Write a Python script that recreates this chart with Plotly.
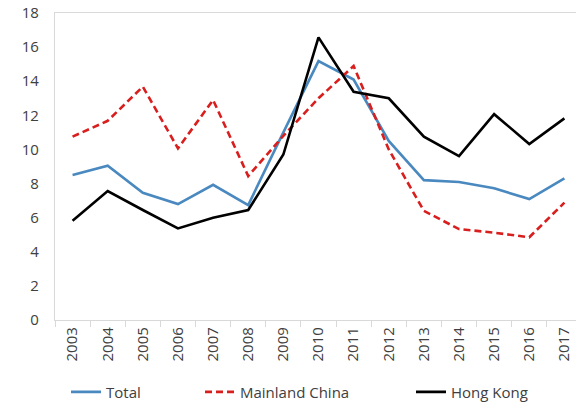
import plotly.graph_objects as go

years = [str(y) for y in range(2003, 2018)]
total = [8.5, 9.05, 7.46, 6.8, 7.93, 6.74, 11.0, 15.18, 14.1, 10.5, 8.2, 8.09, 7.72, 7.09, 8.3]
mainland = [10.75, 11.68, 13.68, 10.06, 12.9, 8.44, 10.8, 13.0, 14.89, 10.0, 6.4, 5.33, 5.12, 4.85, 6.88]
hongkong = [5.82, 7.56, 6.45, 5.37, 6.0, 6.45, 9.7, 16.57, 13.38, 13.0, 10.75, 9.61, 12.07, 10.32, 11.82]

FONT = "Open Sans"
TXT = "#404040"
AX = "#D9D9D9"

fig = go.Figure()
fig.add_trace(go.Scatter(x=years, y=total, mode="lines", name="Total",
                         line=dict(color="#4A89BF", width=2.6), legend="legend"))
fig.add_trace(go.Scatter(x=years, y=mainland, mode="lines", name="Mainland China",
                         line=dict(color="#D91E1E", width=2.6, dash="7px,4px"), legend="legend2"))
fig.add_trace(go.Scatter(x=years, y=hongkong, mode="lines", name="Hong Kong",
                         line=dict(color="#000000", width=2.6), legend="legend3"))

def leg(xpx):
    return dict(x=(xpx - 55) / 521, y=-0.235, xanchor="left", yanchor="middle",
                orientation="h", bgcolor="rgba(0,0,0,0)",
                font=dict(family=FONT, size=15, color=TXT), itemwidth=30,
                tracegroupgap=0)

fig.update_layout(
    width=576, height=403,
    margin=dict(l=55, r=0, t=13, b=83, autoexpand=False),
    paper_bgcolor="white", plot_bgcolor="white",
    font=dict(family=FONT, size=15, color=TXT),
    showlegend=True,
    legend=leg(66), legend2=leg(200), legend3=leg(411),
    xaxis=dict(type="category", range=[-0.5, 14.33], showline=True, linecolor=AX,
               linewidth=1.3, mirror=True, ticks="outside", tickson="boundaries",
               ticklen=6, tickcolor=AX, tickangle=-90, showgrid=False, automargin=False,
               tickfont=dict(family=FONT, size=15, color=TXT)),
    yaxis=dict(range=[0, 18], dtick=2, showline=True, linecolor=AX, linewidth=1.3,
               showgrid=False, zeroline=False, ticks="", ticklabelstandoff=12,
               automargin=False, tickfont=dict(family=FONT, size=15, color=TXT)),
)

fig.write_html("out.html", config={"displayModeBar": False},
               post_script="document.body.style.margin='0px';")
